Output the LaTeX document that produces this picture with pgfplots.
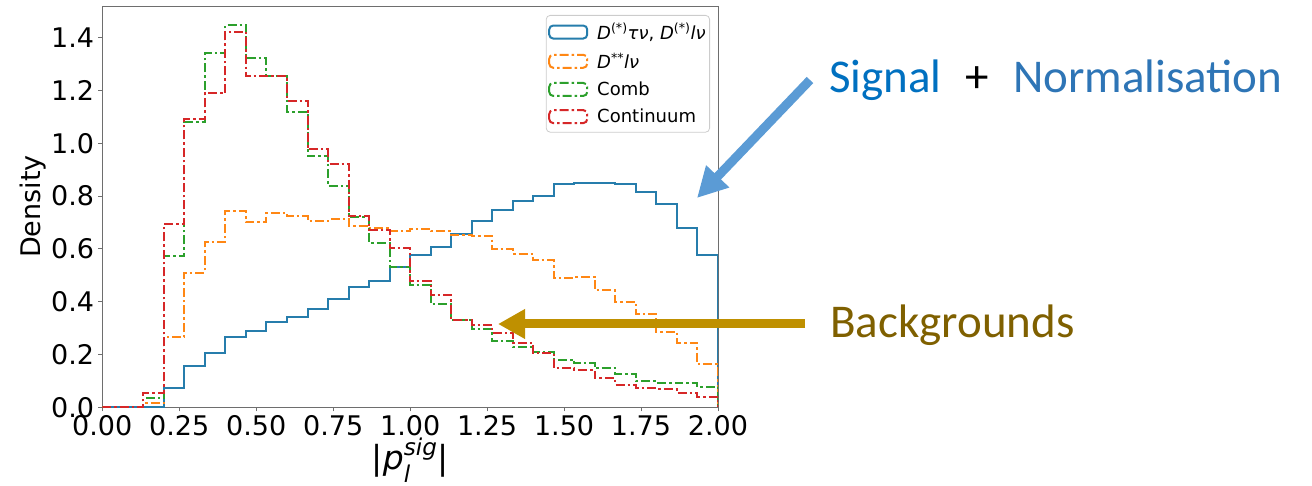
\documentclass[border=0pt]{standalone}
\usepackage{fontspec}
\setmainfont{DejaVu Sans}
\newfontfamily\calib{Carlito}
\usepackage{amsmath}
\usepackage{pgfplots}
\usepackage{pgfplotstable}
\pgfplotsset{compat=1.18}
\usetikzlibrary{arrows.meta}

\definecolor{cblue}{RGB}{38,125,172}
\definecolor{corange}{RGB}{255,135,20}
\definecolor{cgreen}{RGB}{44,160,44}
\definecolor{cred}{RGB}{214,39,40}
\definecolor{framegray}{RGB}{110,110,110}
\definecolor{sigblue}{RGB}{0,112,192}
\definecolor{normblue}{RGB}{46,117,182}
\definecolor{arrowblue}{RGB}{91,155,213}
\definecolor{goldarrow}{RGB}{191,144,0}
\definecolor{bkgtext}{RGB}{127,96,0}

\pgfplotstableread{
x      sig    dss    comb   cont
0      0      0      0      0
0.0667 0      0      0      0
0.1333 0.003  0.015  0.034  0.055
0.2    0.072  0.265  0.572  0.693
0.2667 0.157  0.509  1.082  1.093
0.3333 0.206  0.626  1.342  1.190
0.4    0.267  0.742  1.448  1.423
0.4667 0.288  0.700  1.322  1.253
0.5333 0.324  0.736  1.253  1.253
0.6    0.341  0.723  1.118  1.162
0.6667 0.373  0.705  0.950  0.977
0.7333 0.410  0.712  0.838  0.923
0.8    0.454  0.685  0.720  0.723
0.8667 0.479  0.678  0.622  0.673
0.9333 0.532  0.667  0.532  0.605
1.0    0.576  0.677  0.462  0.478
1.0667 0.607  0.667  0.390  0.425
1.1333 0.658  0.654  0.330  0.330
1.2    0.705  0.649  0.296  0.311
1.2667 0.749  0.601  0.251  0.282
1.3333 0.780  0.582  0.229  0.244
1.4    0.800  0.557  0.210  0.204
1.4667 0.847  0.490  0.181  0.147
1.5333 0.851  0.494  0.166  0.141
1.6    0.851  0.443  0.147  0.110
1.6667 0.844  0.399  0.126  0.084
1.7333 0.814  0.352  0.099  0.072
1.8    0.771  0.286  0.093  0.068
1.8667 0.679  0.244  0.091  0.055
1.9333 0.578  0.163  0.078  0.040
2.0    0.578  0.163  0.078  0.040
2.0    0      0      0      0
}\histdata

\begin{document}
\begin{tikzpicture}
\useasboundingbox (0,0) rectangle (1312pt,486pt);
\begin{axis}[
  at={(102.3pt,78.7pt)}, anchor=south west,
  scale only axis, width=615.7pt, height=401.3pt,
  xmin=0, xmax=2, ymin=0, ymax=1.52,
  axis line style={framegray, line width=0.8pt},
  tick align=outside, tick pos=left, major tick length=4pt,
  tick style={framegray, line width=0.8pt},
  xtick={0,0.25,0.5,0.75,1,1.25,1.5,1.75,2},
  ytick={0,0.2,0.4,0.6,0.8,1,1.2,1.4},
  scaled ticks=false,
  /pgf/number format/assume math mode=true,
  xticklabel style={font=\fontsize{27}{27}\selectfont, inner sep=0pt, yshift=-4pt,
    /pgf/number format/.cd, fixed, fixed zerofill, precision=2},
  yticklabel style={font=\fontsize{27}{27}\selectfont, inner sep=0pt, xshift=-4pt,
    /pgf/number format/.cd, fixed, fixed zerofill, precision=1},
  xlabel={$\text{|}\textit{p}^{\textit{sig}}_{\textit{l}}\text{|}$},
  ylabel={Density},
  xlabel style={at={(axis description cs:0.5,-0.132)}, anchor=center, font=\fontsize{33}{33}\selectfont},
  ylabel style={at={(axis description cs:-0.112,0.5)}, anchor=center, font=\fontsize{27}{27}\selectfont},
  legend cell align=left,
  legend style={at={(rel axis cs:0.987,0.9776)}, anchor=north east,
    draw={rgb,255:red,204;green,204;blue,204}, rounded corners=4pt, fill=white,
    font=\fontsize{18}{21}\selectfont, inner xsep=2pt, inner ysep=6pt,
    row sep=8pt, line width=0.8pt},
  legend image code/.code={\draw[#1, line width=2pt] (0pt,-6.5pt) rectangle (38pt,6.5pt);},
]
\addplot[const plot mark left, cblue, line width=2pt] table[x=x,y=sig]{\histdata};
\addlegendentry{\hspace{7pt}\textit{D}\textsuperscript{(*)}\textit{τν}, \textit{D}\textsuperscript{(*)}\textit{lν}}
\addplot[const plot mark left, corange, line width=2pt, dash pattern=on 9pt off 3pt on 2.5pt off 3pt] table[x=x,y=dss]{\histdata};
\addlegendentry{\hspace{7pt}\textit{D}\textsuperscript{**}\textit{lν}}
\addplot[const plot mark left, cgreen, line width=2pt, dash pattern=on 9pt off 3pt on 2.5pt off 3pt] table[x=x,y=comb]{\histdata};
\addlegendentry{\hspace{7pt}Comb}
\addplot[const plot mark left, cred, line width=2pt, dash pattern=on 9pt off 3pt on 2.5pt off 3pt] table[x=x,y=cont]{\histdata};
\addlegendentry{\hspace{7pt}Continuum}
\end{axis}
% annotations
\draw[arrowblue, line width=9pt, -{Triangle[length=30pt,width=30pt]}] (810pt,406pt) -- (697pt,288pt);
\draw[goldarrow, line width=9pt, -{Triangle[length=27pt,width=28pt]}] (805pt,162pt) -- (498pt,162pt);
\node[anchor=base west, inner sep=0pt, text=sigblue, font=\calib\fontsize{47}{47}\selectfont] at (829pt,393pt) {Signal};
\node[anchor=base, inner sep=0pt, text=black, font=\calib\fontsize{47}{47}\selectfont] at (977pt,393pt) {+};
\node[anchor=base west, inner sep=0pt, text=normblue, font=\calib\fontsize{47}{47}\selectfont] at (1013pt,393pt) {Normalisation};
\node[anchor=base west, inner sep=0pt, text=bkgtext, font=\calib\fontsize{47}{47}\selectfont] at (830pt,148pt) {Backgrounds};
\end{tikzpicture}
\end{document}
